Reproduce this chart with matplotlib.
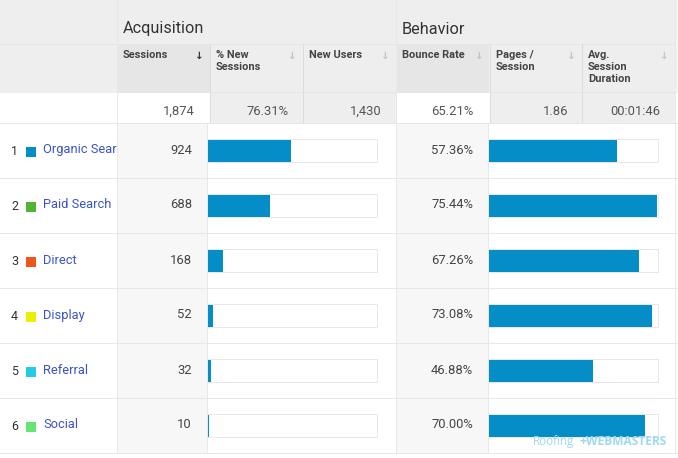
import matplotlib
matplotlib.use('Agg')
import matplotlib.pyplot as plt
from matplotlib.patches import Rectangle
from matplotlib.transforms import Bbox, TransformedBbox

plt.rcParams['font.family'] = ['Roboto', 'DejaVu Sans']

channels = ['Organic Search', 'Paid Search', 'Direct', 'Display', 'Referral', 'Social']
swatches = ['#058dc7', '#50b432', '#ed561b', '#edef00', '#24cbe5', '#64e572']
sessions = [924, 688, 168, 52, 32, 10]
bounce = [57.36, 75.44, 67.26, 73.08, 46.88, 70.00]
total_sessions = 1874
max_bounce = 75.44

groups = ['Acquisition', 'Behavior']
columns = ['Sessions', '% New\nSessions', 'New Users', 'Bounce Rate', 'Pages /\nSession', 'Avg.\nSession\nDuration']
totals = ['1,874', '76.31%', '1,430', '65.21%', '1.86', '00:01:46']

# snapping puts lines one pixel later, so these sit half a pixel back
col_x = [116.5, 209.5, 302.5, 395.5, 489.5, 581.5, 674.5]
row_y = [122.5, 177.5, 232.5, 287.5, 342.5, 397.5, 452.5]
line = '#e8e8e8'
head = '#eeeeee'
sorted_bg = '#e6e6e6'
bar_c = '#058dc7'
LW = 0.72

fig = plt.figure(figsize=(6.78, 4.58), dpi=100)
ax = fig.add_axes([0, 0, 1, 1])
ax.set_xlim(0, 678)
ax.set_ylim(458, 0)
ax.axis('off')

# header bands
ax.add_patch(Rectangle((0, 0), 675, 93, fc=head, ec='none'))
ax.add_patch(Rectangle((675, 0), 3, 93, fc='#f4f4f4', ec='none'))
ax.add_patch(Rectangle((117, 44), 93, 49, fc=sorted_bg, ec='none'))
ax.add_patch(Rectangle((396, 44), 93, 49, fc=sorted_bg, ec='none'))
ax.add_patch(Rectangle((210, 93), 186, 30, fc=head, ec='none'))
ax.add_patch(Rectangle((490, 93), 185, 30, fc=head, ec='none'))

# shaded value columns
ax.add_patch(Rectangle((117, 123), 90, 330, fc='#f7f7f7', ec='none'))
ax.add_patch(Rectangle((396, 123), 92, 330, fc='#f7f7f7', ec='none'))

# grid lines
ax.plot([0, 675], [43.5, 43.5], color='#e6e6e6', lw=LW)
ax.plot([210, 396], [91.5, 91.5], color='#e6e6e6', lw=LW)
ax.plot([490, 675], [91.5, 91.5], color='#e6e6e6', lw=LW)
for y in row_y:
    ax.plot([0, 678], [y, y], color=line, lw=LW)
for x in [col_x[0], col_x[3], col_x[6]]:
    ax.plot([x, x], [0, row_y[-1]], color=line, lw=LW)
for x in [col_x[1], col_x[2], col_x[4], col_x[5]]:
    ax.plot([x, x], [44, 122], color='#dcdcdc', lw=LW)
for x in [206.5, 487.5]:
    ax.plot([x, x], [row_y[0], row_y[-1]], color=line, lw=LW)

ax.text(123, 29, groups[0], fontsize=11.7, color='#333333', va='center')
ax.text(402, 29, groups[1], fontsize=11.7, color='#333333', va='center')

for i, name in enumerate(columns):
    ax.text(col_x[i] + 6.5, 50, name, fontsize=7.9, fontweight='bold', color='#444444',
            va='top', ha='left', linespacing=1.25)
    # sort arrow
    arrow_c = '#333333' if i == 0 else '#c4c4c4'
    ax.text(col_x[i + 1] - 10.5, 55.5, '\u2193', fontsize=7.5, fontweight='bold', color=arrow_c,
            ha='center', va='center', family='DejaVu Sans')

total_right = [195, 288.5, 381.5, 474, 568, 660.5]
for r, t in zip(total_right, totals):
    ax.text(r, 111.5, t, fontsize=9.4, color='#555555', ha='right', va='center')

clip = TransformedBbox(Bbox([[0, 0], [117, 458]]), ax.transData)
for i, name in enumerate(channels):
    yc = (row_y[i] + row_y[i + 1]) / 2 + 1
    ax.text(14.5, yc + 0.5, str(i + 1), fontsize=9, color='#333333', ha='center', va='center')
    ax.add_patch(Rectangle((26, yc - 4), 10, 10, fc=swatches[i], ec='none'))
    t = ax.text(43, yc - 1, name, fontsize=9.3, color='#3b52cc', ha='left', va='center')
    t.set_clip_box(clip)
    t.set_clip_on(True)
    ax.text(192, yc - 1, f'{sessions[i]}', fontsize=9.4, color='#444444', ha='right', va='center')
    ax.text(473, yc - 1, f'{bounce[i]:.2f}%', fontsize=9.4, color='#444444', ha='right', va='center')


def bar_axes(x0, x1, vals, vmax):
    a = fig.add_axes([x0 / 678, 1 - (row_y[-1] + 0.5) / 458, (x1 - x0) / 678, (row_y[-1] - row_y[0]) / 458])
    a.set_xlim(0, vmax)
    a.set_ylim(5.5, -0.5)
    a.axis('off')
    a.patch.set_alpha(0)
    pos = list(range(len(vals)))
    a.barh(pos, [vmax] * len(vals), height=0.42, color='white', edgecolor=line, linewidth=LW, clip_on=False)
    a.barh(pos, vals, height=0.4, color=bar_c, edgecolor='none')
    return a


bar_axes(208, 376.5, sessions, total_sessions)
bar_axes(489, 657.5, bounce, max_bounce * 1.003)

# watermark
wm = '#9fd8f4'
fig.text(533 / 678, 1 - 441.5 / 458, 'Roofing', fontsize=8.4, color=wm, family='Open Sans', va='center', zorder=10)
fig.text(579 / 678, 1 - 441.5 / 458, '+', fontsize=9, color=wm, family='Open Sans', fontweight='bold', va='center', zorder=10)
fig.text(586 / 678, 1 - 441.5 / 458, 'WEBMASTERS', fontsize=8.6, color=wm, family='Open Sans', fontweight='bold', va='center', zorder=10)

fig.savefig('out.png', dpi=100)
